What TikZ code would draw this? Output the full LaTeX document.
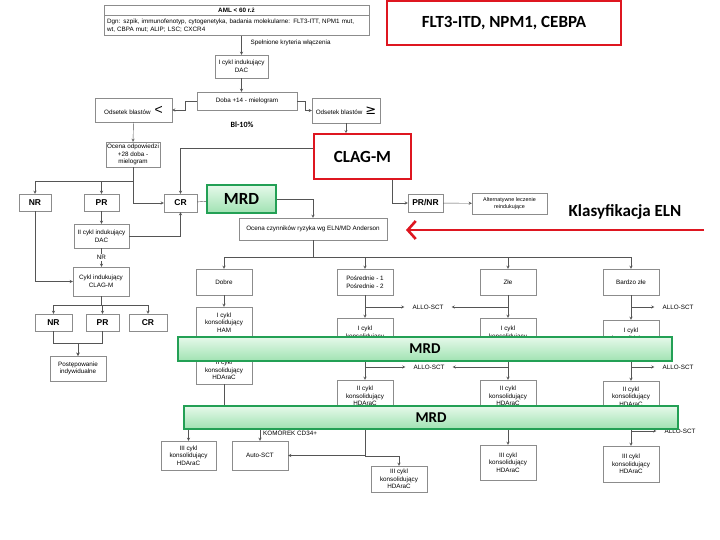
\documentclass[tikz,border=0pt]{standalone}
\usepackage{fontspec}
\setmainfont{Liberation Sans}
\newfontfamily\calibri{Carlito}
\newfontfamily\dejavu{DejaVu Sans}
\usetikzlibrary{shapes, arrows, arrows.meta, positioning}

\definecolor{boxgray}{RGB}{140,140,140}
\definecolor{linegray}{RGB}{85,85,85}
\definecolor{elnred}{RGB}{222,22,32}
\definecolor{mrdgreen}{RGB}{35,160,85}
\definecolor{mrdtop}{RGB}{230,249,234}
\definecolor{mrdbottom}{RGB}{160,226,178}

\newcommand{\boxfont}{\fontsize{6.3}{7.6}\selectfont}

\begin{document}
\begin{tikzpicture}[
        x=1pt, y=-1pt,
        block/.style={rectangle, draw=boxgray, fill=white, align=center, font=\boxfont, inner sep=1pt},
        risk/.style={block, minimum width=56, minimum height=26},
        cons/.style={block, minimum width=56},
        statebox/.style={block, font=\bfseries\fontsize{8.5}{10}\selectfont, minimum width=34, minimum height=17},
        redbox/.style={rectangle, draw=elnred, line width=1.6pt, fill=white, font=\calibri\bfseries\fontsize{17}{20}\selectfont},
        mrdbox/.style={rectangle, draw=mrdgreen, line width=1.4pt, top color=mrdtop, bottom color=mrdbottom, font=\calibri\bfseries\fontsize{17}{20}\selectfont},
        band/.style={mrdbox, minimum width=494, font=\calibri\bfseries\fontsize{15}{18}\selectfont},
        lbl/.style={font=\boxfont, inner sep=1pt},
        allo/.style={font=\boxfont, inner xsep=8pt, inner ysep=1pt},
        arrow/.style={draw=linegray, ->, >=stealth},
        line/.style={draw=linegray},
        elnarrow/.style={elnred, line width=2.6pt, -{Straight Barb[length=8pt, width=18pt]}}
    ]

    \fill[white] (0,0) rectangle (720,540);

    % Header boxes
    \node [block, minimum width=265, minimum height=10, font=\boxfont\bfseries] (amlhead) at (236.5,10) {AML < 60 r.ż};
    \node [block, minimum width=265, minimum height=20, text width=259, align=left, anchor=north] (amlbody) at (amlhead.south) {Dgn: szpik, immunofenotyp, cytogenetyka, badania molekularne: FLT3-ITT, NPM1 mut,\\wt, CBPA mut; ALIP; LSC; CXCR4};
    \node [redbox, minimum width=234, minimum height=44] (flt) at (504,23) {FLT3-ITD, NPM1, CEBPA};

    % Induction
    \node [block, minimum width=53, minimum height=23] (cykl1) at (241.5,66.5) {I cykl indukujący\\DAC};
    \node [block, minimum width=100, minimum height=18] (doba) at (247,101) {Doba +14 - mielogram};
    \node [block, minimum width=77, minimum height=24] (odsless) at (133.5,110) {Odsetek blastów\hspace{4pt}{\fontsize{14}{14}\selectfont<}};
    \node [block, minimum width=68, minimum height=25] (odsgeq) at (346,110.5) {Odsetek blastów\hspace{3pt}{\dejavu\fontsize{13}{13}\selectfont≥}};
    \node [font=\calibri\bfseries\fontsize{8}{9}\selectfont] (bl) at (242,125) {Bl-10\%};

    % Response
    \node [block, minimum width=54, minimum height=25] (odpow) at (133,154.5) {Ocena odpowiedzi\\+28 doba -\\mielogram};
    \node [redbox, minimum width=97, minimum height=45] (clagm) at (362.5,156.5) {CLAG-M};
    \node [statebox, minimum width=32] (nr1) at (35,202.5) {NR};
    \node [statebox, minimum width=35] (pr1) at (101.5,202.5) {PR};
    \node [statebox, minimum width=33, minimum height=18] (cr1) at (180.5,203) {CR};
    \node [mrdbox, minimum width=69, minimum height=28] (mrd1) at (241.5,199) {MRD};
    \node [statebox, minimum width=35, minimum height=18] (prnr) at (425.5,203) {PR/NR};
    \node [block, minimum width=75, minimum height=21, font=\fontsize{5.4}{6.6}\selectfont] (alt) at (509.5,203.5) {Alternatywne leczenie\\reindukujące};
    \node [block, minimum width=148, minimum height=22] (ocena) at (313,229) {Ocena czynników ryzyka wg ELN/MD Anderson};
    \node [font=\calibri\bfseries\fontsize{17}{20}\selectfont] (eln) at (625,212) {Klasyfikacja ELN};
    \coordinate (elnstart) at (704,230);
    \coordinate (elnend) at (406,230);

    % Left branch
    \node [block, minimum width=55, minimum height=24] (cykl2) at (101.5,236) {II cykl indukujący\\DAC};
    \node [block, minimum width=56, minimum height=29] (clagcykl) at (101,281.5) {Cykl indukujący\\CLAG-M};
    \node [statebox, minimum width=37] (nr2) at (53.5,322.5) {NR};
    \node [statebox, minimum width=33] (pr2) at (102.5,322.5) {PR};
    \node [statebox, minimum width=38] (cr2) at (148,322.5) {CR};
    \node [block, minimum width=56, minimum height=25] (postep) at (78,368.5) {Postępowanie\\indywidualne};

    % Risk groups
    \node [risk] (dobre) at (224,282) {Dobre};
    \node [risk] (posr) at (365,282) {Pośrednie - 1\\Pośrednie - 2};
    \node [risk] (zle) at (508,282) {Złe};
    \node [risk] (bzle) at (631,282) {Bardzo złe};

    % Consolidation
    \node [cons, minimum height=31] (ham) at (224,322.5) {I cykl\\konsolidujący\\HAM};
    \node [cons, minimum height=28] (dhd2) at (224,370) {II cykl\\konsolidujący\\HDAraC};
    \node [cons, minimum width=55, minimum height=29] (dhd3) at (188.5,455.5) {III cykl\\konsolidujący\\HDAraC};
    \node [cons, minimum height=29] (auto) at (260,455.5) {Auto-SCT};
    \node [cons, minimum height=30] (pcons1) at (365,333) {I cykl\\konsolidujący};
    \node [cons, minimum height=32] (pcons2) at (365,396) {II cykl\\konsolidujący\\HDAraC};
    \node [cons, minimum height=26] (pcons3) at (399,479) {III cykl\\konsolidujący\\HDAraC};
    \node [cons, minimum height=30] (zcons1) at (508,333) {I cykl\\konsolidujący};
    \node [cons, minimum height=32] (zcons2) at (508,396) {II cykl\\konsolidujący\\HDAraC};
    \node [cons, minimum height=35] (zcons3) at (508,462.5) {III cykl\\konsolidujący\\HDAraC};
    \node [cons, minimum height=30] (bcons1) at (631,335) {I cykl\\konsolidujący};
    \node [cons, minimum height=31] (bcons2) at (631,396.5) {II cykl\\konsolidujący\\HDAraC};
    \node [cons, minimum height=36] (bcons3) at (631,464) {III cykl\\konsolidujący\\HDAraC};

    % Transplant labels
    \node [allo] (allo1) at (428,307) {ALLO-SCT};
    \node [allo] (allo2) at (429,367) {ALLO-SCT};
    \node [allo] (allo3) at (678,307) {ALLO-SCT};
    \node [allo] (allo4) at (678,367) {ALLO-SCT};
    \node [allo] (allo5) at (680,431) {ALLO-SCT};
    \node [lbl, anchor=west] (cd34) at (262,433) {KOMÓREK CD34+};

    % Connecting Lines
    \draw [arrow] (amlbody.south -| cykl1) -- node[lbl, right, pos=0.4, xshift=8pt] {Spełnione kryteria włączenia} (cykl1.north);
    \draw [arrow] (cykl1.south) -- (cykl1.south |- doba.north);
    \draw [arrow] (doba.west) -- ++(-12,0) |- (odsless.east);
    \draw [arrow] (doba.east) -- ++(8,0) |- (odsgeq.west);
    \draw [arrow] (odsless.south) -- (odpow.north);
    \draw [arrow] (odsgeq.south) -- (odsgeq.south |- clagm.north);

    \draw [arrow] (odpow.south) |- (cr1.west);
    \draw [arrow] (odpow.south) -- ++(0,14) -| (nr1.north);
    \draw [arrow] (odpow.south) -- ++(0,14) -| (pr1.north);
    \draw [arrow] (clagm.170) -| (cr1.north);
    \draw [arrow] ([xshift=30]clagm.south) |- (prnr.west);
    \draw [arrow] (prnr) -- (alt);
    \draw [line] (cr1) -- (mrd1);
    \draw [arrow] (mrd1.east) -| (ocena.north);

    \draw [arrow] (pr1) -- (cykl2);
    \draw [arrow] (cykl2.east) -| (cr1.south);
    \draw [arrow] (cykl2.south) -- node[lbl, fill=white] {NR} (cykl2.south |- clagcykl.north);
    \draw [arrow] (nr1.south) |- (clagcykl.west);
    \draw [arrow] (clagcykl.south) -- ++(0,9) -| (nr2.north);
    \draw [arrow] (clagcykl.south) -- ++(0,9) -| (pr2.north);
    \draw [arrow] (clagcykl.south) -- ++(0,9) -| (cr2.north);
    \draw [arrow] (nr2.south) -- ++(0,12) -| (postep.north);
    \draw [arrow] (pr2.south) -- ++(0,12) -| (postep.north);

    \draw [arrow] (ocena.south) -- ++(0,17) -| (dobre.north);
    \draw [arrow] (ocena.south) -- ++(0,17) -| (posr.north);
    \draw [arrow] (ocena.south) -- ++(0,17) -| (zle.north);
    \draw [arrow] (ocena.south) -- ++(0,17) -| (bzle.north);

    % Dobre
    \draw [arrow] (dobre) -- (ham);
    \draw [arrow] (ham) -- (dhd2);
    \draw [arrow] (dhd2.south) -- ++(0,36) -| (dhd3.north);
    \draw [arrow] (dhd2.south) -- ++(0,36) -| (auto.north);

    % Posrednie
    \draw [arrow] (posr) -- (pcons1);
    \draw [arrow] (posr.south |- allo1) -- (allo1.west);
    \draw [arrow] (pcons1) -- (pcons2);
    \draw [arrow] (pcons1.south |- allo2) -- (allo2.west);
    \draw [arrow] (pcons2.south) |- (auto.east);
    \draw [arrow] (pcons2.south) -- ++(0,44) -| (pcons3.north);

    % Zle
    \draw [arrow] (zle) -- (zcons1);
    \draw [arrow] (zle.south |- allo1) -- (allo1.east);
    \draw [arrow] (zcons1) -- (zcons2);
    \draw [arrow] (zcons1.south |- allo2) -- (allo2.east);
    \draw [arrow] (zcons2) -- (zcons3);

    % Bardzo zle
    \draw [arrow] (bzle) -- (bcons1);
    \draw [arrow] (bzle.south |- allo3) -- (allo3.west);
    \draw [arrow] (bcons1) -- (bcons2);
    \draw [arrow] (bcons1.south |- allo4) -- (allo4.west);
    \draw [arrow] (bcons2) -- (bcons3);
    \draw [arrow] (bcons2.south |- allo5) -- (allo5.west);

    \draw [elnarrow] (elnstart) -- (elnend);

    % MRD bands
    \node [band, minimum height=24] (band1) at (425,349) {MRD};
    \node [band, minimum height=23] (band2) at (431,417.5) {MRD};

\end{tikzpicture}
\end{document}
